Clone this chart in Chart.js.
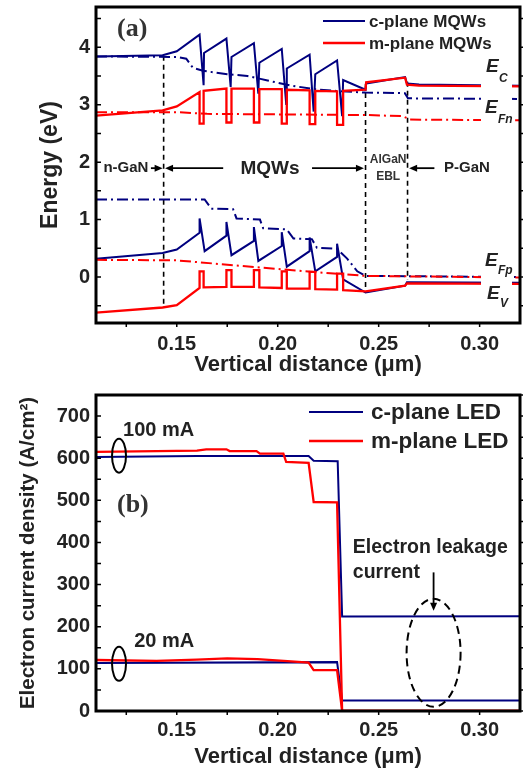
<!DOCTYPE html>
<html>
<head>
<meta charset="utf-8">
<script src="https://cdn.jsdelivr.net/npm/chart.js@4.4.0/dist/chart.umd.min.js"></script>
<style>
  html, body { margin: 0; padding: 0; background: #fff; }
  #wrap-a { position: absolute; left: 0; top: 0; width: 523px; height: 385px; }
  #wrap-b { position: absolute; left: 0; top: 385px; width: 523px; height: 386px; }
</style>
</head>
<body>
<div id="wrap-a"><canvas id="chart-a" width="523" height="385"></canvas></div>
<div id="wrap-b"><canvas id="chart-b" width="523" height="386"></canvas></div>
<script>
// ---- data: panel (a), band diagram, [distance um, energy eV] ----
const cPlaneEc = [[0.11,3.84],[0.143,3.86],[0.15,3.93],[0.1613,4.22],[0.1633,3.34],[0.1635,3.90],[0.1746,4.15],[0.1767,3.31],[0.1771,3.83],[0.1882,4.07],[0.1904,3.19],[0.1909,3.73],[0.2020,3.97],[0.2042,3.01],[0.2045,3.63],[0.2158,3.87],[0.2178,2.88],[0.2186,3.53],[0.2294,3.77],[0.2319,2.80],[0.2324,3.43],[0.2435,3.26],[0.2438,3.37],[0.2631,3.48],[0.2640,3.37],[0.270,3.35],[0.32,3.33]];
const mPlaneEc = [[0.11,2.81],[0.143,2.90],[0.15,2.97],[0.1613,3.22],[0.1613,2.67],[0.1633,2.67],[0.1633,3.24],[0.1746,3.28],[0.1746,2.69],[0.1771,2.69],[0.1771,3.28],[0.1882,3.28],[0.1882,2.69],[0.1909,2.69],[0.1909,3.27],[0.2020,3.27],[0.2020,2.67],[0.2045,2.67],[0.2045,3.26],[0.2158,3.25],[0.2158,2.66],[0.2186,2.66],[0.2186,3.24],[0.2294,3.23],[0.2294,2.65],[0.2324,2.65],[0.2324,3.24],[0.2435,3.26],[0.2438,3.39],[0.2631,3.47],[0.2640,3.35],[0.270,3.33],[0.32,3.32]];
const cPlaneEv = [[0.11,0.32],[0.143,0.42],[0.15,0.48],[0.1613,0.77],[0.1613,1.02],[0.1638,0.45],[0.1746,0.72],[0.1746,0.96],[0.1771,0.38],[0.1882,0.63],[0.1882,0.87],[0.1904,0.28],[0.2020,0.54],[0.2020,0.78],[0.2045,0.18],[0.2158,0.45],[0.2158,0.69],[0.2186,0.10],[0.2294,0.35],[0.2294,0.58],[0.2324,-0.04],[0.2435,-0.27],[0.2631,-0.15],[0.2640,-0.09],[0.32,-0.10]];
const mPlaneEv = [[0.11,-0.62],[0.143,-0.53],[0.15,-0.49],[0.1613,-0.19],[0.1613,0.10],[0.1633,0.10],[0.1633,-0.18],[0.1746,-0.17],[0.1746,0.12],[0.1771,0.12],[0.1771,-0.17],[0.1882,-0.17],[0.1882,0.12],[0.1909,0.12],[0.1909,-0.18],[0.2020,-0.19],[0.2020,0.10],[0.2045,0.10],[0.2045,-0.20],[0.2158,-0.20],[0.2158,0.09],[0.2186,0.09],[0.2186,-0.21],[0.2294,-0.22],[0.2294,0.06],[0.2324,0.06],[0.2324,-0.23],[0.2435,-0.25],[0.2631,-0.15],[0.2640,-0.11],[0.32,-0.12]];
const cPlaneEfn = [[0.11,3.84],[0.15,3.83],[0.1547,3.80],[0.158,3.64],[0.163,3.59],[0.175,3.53],[0.185,3.50],[0.195,3.42],[0.207,3.33],[0.218,3.27],[0.229,3.24],[0.2435,3.21],[0.263,3.20],[0.2645,3.11],[0.32,3.10]];
const mPlaneEfn = [[0.11,2.87],[0.15,2.87],[0.165,2.84],[0.2435,2.82],[0.262,2.80],[0.2655,2.74],[0.32,2.73]];
const cPlaneEfp = [[0.11,1.35],[0.1638,1.35],[0.1671,1.19],[0.1779,1.18],[0.1796,1.02],[0.1912,1.00],[0.1928,0.85],[0.2045,0.83],[0.2078,0.67],[0.2169,0.66],[0.2194,0.51],[0.2294,0.49],[0.2344,0.32],[0.2394,0.10],[0.2435,0.02],[0.32,0.00]];
const mPlaneEfp = [[0.11,0.30],[0.15,0.29],[0.19,0.17],[0.22,0.08],[0.2435,0.02],[0.32,-0.01]];
// layer boundaries (dashed)
const boundaryX = [0.1435, 0.2435, 0.2643];
const boundaryTop = [3.85, 3.36, 3.40];
const boundaryBottom = [-0.53, -0.27, -0.05];

// ---- data: panel (b), electron current density, [distance um, A/cm2] ----
const cPlane100 = [[0.11,603],[0.16,605],[0.2153,605],[0.2178,594],[0.2297,593],[0.2319,224],[0.32,225]];
const mPlane100 = [[0.11,615],[0.16,618],[0.1646,621],[0.1746,621],[0.1762,617],[0.1895,617],[0.1912,611],[0.2028,611],[0.2042,591],[0.2153,589],[0.2178,496],[0.2294,495],[0.2319,0],[0.32,0]];
const cPlane20 = [[0.11,114],[0.2294,116],[0.2319,25],[0.32,25]];
const mPlane20 = [[0.11,121],[0.14,119],[0.16,122],[0.175,125],[0.19,123],[0.203,119],[0.2153,115],[0.2178,97],[0.2294,97],[0.2319,0],[0.32,0]];

// ---- ticks ----
const xTicks = [0.15, 0.20, 0.25, 0.30];
const xMinor = [0.125, 0.175, 0.225, 0.275];
const energyTicks = [0, 1, 2, 3, 4];
const energyMinor = [-0.5, 0.5, 1.5, 2.5, 3.5, 4.5];
const currentTicks = [0, 100, 200, 300, 400, 500, 600, 700];
const currentMinor = [50, 150, 250, 350, 450, 550, 650, 750];

const BLUE = '#00007f';
const RED = '#ff0000';
const INK = '#222';
const FONT = "'Liberation Sans', Arial, Helvetica, sans-serif";
const DASHDOT = [11, 4, 2, 4];

const pts = arr => arr.map(p => ({ x: p[0], y: p[1] }));
function series(arr, color, width, dash) {
    return {
        data: pts(arr), showLine: true, pointRadius: 0, borderColor: color,
        borderWidth: width, borderDash: dash || [], fill: false
    };
}

function text(ctx, s, x, y, font, align, base, color) {
    ctx.font = font;
    ctx.textAlign = align || 'left';
    ctx.textBaseline = base || 'alphabetic';
    ctx.fillStyle = color || INK;
    ctx.fillText(s, x, y);
}
function arrow(ctx, x1, y1, x2, y2) {
    const ang = Math.atan2(y2 - y1, x2 - x1), L = 8, W = 3.5;
    ctx.beginPath(); ctx.moveTo(x1, y1); ctx.lineTo(x2 - L * Math.cos(ang) * 0.6, y2 - L * Math.sin(ang) * 0.6); ctx.stroke();
    ctx.beginPath();
    ctx.moveTo(x2, y2);
    ctx.lineTo(x2 - L * Math.cos(ang) + W * Math.sin(ang), y2 - L * Math.sin(ang) - W * Math.cos(ang));
    ctx.lineTo(x2 - L * Math.cos(ang) - W * Math.sin(ang), y2 - L * Math.sin(ang) + W * Math.cos(ang));
    ctx.closePath(); ctx.fill();
}

// frame + tick marks
const framePlugin = {
    id: 'frame',
    afterDraw(chart, args, opts) {
        const { ctx, chartArea: a, scales: { x, y } } = chart;
        ctx.save();
        ctx.strokeStyle = '#000';
        ctx.lineWidth = 1.5;
        opts.yTicks.concat(opts.yMinor).forEach(v => {
            const p = y.getPixelForValue(v);
            ctx.beginPath();
            ctx.moveTo(a.left, p); ctx.lineTo(a.left + 5, p);
            ctx.moveTo(a.right, p); ctx.lineTo(a.right + 4, p);
            ctx.stroke();
        });
        xTicks.concat(xMinor).forEach(v => {
            const p = x.getPixelForValue(v);
            ctx.beginPath(); ctx.moveTo(p, a.bottom); ctx.lineTo(p, a.bottom + 4); ctx.stroke();
        });
        ctx.lineWidth = 3;
        ctx.strokeRect(a.left, a.top, a.right - a.left, a.bottom - a.top);
        ctx.restore();
    }
};

function legend(ctx, items, x1, x2, tx, font) {
    items.forEach(it => {
        ctx.strokeStyle = it.color; ctx.lineWidth = it.width; ctx.setLineDash([]);
        ctx.beginPath(); ctx.moveTo(x1, it.y); ctx.lineTo(x2, it.y); ctx.stroke();
        text(ctx, it.label, tx, it.y + 1, font, 'left', 'middle');
    });
}

// annotations for panel (a)
const annotA = {
    id: 'annotA',
    afterDatasetsDraw(chart) {
        const { ctx, scales: { x, y } } = chart;
        const px = v => x.getPixelForValue(v), py = v => y.getPixelForValue(v);
        ctx.save();
        // white boxes behind the band labels
        ctx.fillStyle = '#fff';
        ctx.fillRect(481, 52, 31, 74);
        ctx.fillRect(481, 250, 31, 60);
        const eFont = 'italic bold 19px ' + FONT, sFont = 'italic bold 12px ' + FONT;
        text(ctx, 'E', 486, 72, eFont); text(ctx, 'C', 499, 82, sFont);
        text(ctx, 'E', 485, 113, eFont); text(ctx, 'Fn', 498, 123, sFont);
        text(ctx, 'E', 485, 266, eFont); text(ctx, 'Fp', 498, 274, sFont);
        text(ctx, 'E', 487, 299, eFont); text(ctx, 'V', 500, 307, sFont);

        text(ctx, '(a)', px(0.1204), py(4.20), 'bold 26px "Liberation Serif", "Times New Roman", serif', 'left', 'alphabetic', '#333');

        // region labels
        const yr = py(1.895);
        ctx.strokeStyle = '#000'; ctx.fillStyle = '#000'; ctx.lineWidth = 1.8;
        arrow(ctx, px(0.1372), yr, px(0.1430), yr);
        arrow(ctx, px(0.1730), yr, px(0.1442), yr);
        arrow(ctx, px(0.2170), yr, px(0.2427), yr);
        arrow(ctx, px(0.2776), yr, px(0.2651), yr);
        text(ctx, 'n-GaN', px(0.1248), yr, 'bold 15px ' + FONT, 'center', 'middle');
        text(ctx, 'MQWs', px(0.1962), yr + 1, 'bold 19px ' + FONT, 'center', 'middle');
        text(ctx, 'P-GaN', px(0.2937), yr, 'bold 15px ' + FONT, 'center', 'middle');
        text(ctx, 'AlGaN', px(0.2547), py(2.05), 'bold 12px ' + FONT, 'center', 'middle', '#333');
        text(ctx, 'EBL', px(0.2547), py(1.74), 'bold 12px ' + FONT, 'center', 'middle', '#333');

        legend(ctx, [
            { label: 'c-plane MQWs', color: BLUE, width: 2, y: 21 },
            { label: 'm-plane MQWs', color: RED, width: 2.5, y: 43 }
        ], 323, 365, 369, 'bold 17px ' + FONT);
        ctx.restore();
    }
};

// annotations for panel (b)
const annotB = {
    id: 'annotB',
    afterDatasetsDraw(chart) {
        const { ctx, scales: { x, y } } = chart;
        const px = v => x.getPixelForValue(v), py = v => y.getPixelForValue(v);
        ctx.save();
        text(ctx, '(b)', px(0.1204), py(472), 'bold 26px "Liberation Serif", "Times New Roman", serif', 'left', 'alphabetic', '#333');
        text(ctx, '100 mA', px(0.1234), py(653), 'bold 20px ' + FONT);
        text(ctx, '20 mA', px(0.1289), py(152), 'bold 20px ' + FONT);
        text(ctx, 'Electron leakage', px(0.2372), py(374), 'bold 19.5px ' + FONT);
        text(ctx, 'current', px(0.2372), py(316), 'bold 19.5px ' + FONT);

        ctx.strokeStyle = '#000'; ctx.lineWidth = 2;
        [[0.1214, 606], [0.1214, 112]].forEach(c => {
            ctx.beginPath(); ctx.ellipse(px(c[0]), py(c[1]), 7, 17, 0, 0, Math.PI * 2); ctx.stroke();
        });
        ctx.setLineDash([8, 5]);
        ctx.beginPath(); ctx.ellipse(px(0.2772), py(138), 27, 54, 0, 0, Math.PI * 2); ctx.stroke();
        ctx.setLineDash([]);
        ctx.fillStyle = '#000'; ctx.lineWidth = 1.8;
        arrow(ctx, px(0.2772), py(329), px(0.2772), py(238));

        legend(ctx, [
            { label: 'c-plane LED', color: BLUE, width: 2, y: 27 },
            { label: 'm-plane LED', color: RED, width: 2.5, y: 56 }
        ], 309, 363, 371, 'bold 22.5px ' + FONT);
        ctx.restore();
    }
};

function xScale(titlePad, tickPad, height) {
    return {
        type: 'linear', min: 0.11, max: 0.32,
        afterBuildTicks: s => { s.ticks = xTicks.map(v => ({ value: v })); },
        afterFit: s => { s.height = height; s.paddingLeft = 0; s.paddingRight = 0; },
        grid: { display: false, drawTicks: false },
        border: { display: false },
        ticks: {
            callback: v => v.toFixed(2), autoSkip: false, maxRotation: 0,
            padding: tickPad, color: INK, font: { family: FONT, size: 20, weight: 'bold' }
        },
        title: {
            display: true, text: 'Vertical distance (\u03bcm)', color: INK,
            font: { family: FONT, size: 22, weight: 'bold' }, padding: { top: 0, bottom: titlePad }
        }
    };
}
function yScale(min, max, tickList, title, titleSize, titlePad) {
    return {
        min: min, max: max,
        afterBuildTicks: s => { s.ticks = tickList.map(v => ({ value: v })); },
        afterFit: s => { s.width = 96; s.paddingTop = 0; s.paddingBottom = 0; },
        grid: { display: false, drawTicks: false },
        border: { display: false },
        ticks: { callback: v => String(v), padding: 6, color: INK, font: { family: FONT, size: 20, weight: 'bold' } },
        title: {
            display: true, text: title, color: INK,
            font: { family: FONT, size: titleSize, weight: 'bold' }, padding: { top: titlePad, bottom: 0 }
        }
    };
}

new Chart(document.getElementById('chart-a'), {
    type: 'scatter',
    data: {
        datasets: [
            series(mPlaneEc, RED, 2.3),
            series(mPlaneEv, RED, 2.3),
            series(mPlaneEfn, RED, 2, DASHDOT),
            series(mPlaneEfp, RED, 2, DASHDOT),
            series(cPlaneEc, BLUE, 2),
            series(cPlaneEv, BLUE, 2),
            series(cPlaneEfn, BLUE, 2, DASHDOT),
            series(cPlaneEfp, BLUE, 2, DASHDOT),
            ...boundaryX.map((bx, i) => series([[bx, boundaryTop[i]], [bx, boundaryBottom[i]]], '#000', 1.6, [5, 4]))
        ]
    },
    options: {
        responsive: false,
        animation: false,
        layout: { padding: { left: 0, right: 3, top: 7, bottom: 0 } },
        plugins: {
            legend: { display: false },
            tooltip: { enabled: false },
            frame: { yTicks: energyTicks, yMinor: energyMinor }
        },
        scales: {
            x: xScale(7, 9, 62),
            y: yScale(-0.8, 4.7, energyTicks, 'Energy (eV)', 23, 37)
        }
    },
    plugins: [annotA, framePlugin]
});

new Chart(document.getElementById('chart-b'), {
    type: 'scatter',
    data: {
        datasets: [
            series(mPlane100, RED, 2.3),
            series(mPlane20, RED, 2.3),
            series(cPlane100, BLUE, 2),
            series(cPlane20, BLUE, 2)
        ]
    },
    options: {
        responsive: false,
        animation: false,
        layout: { padding: { left: 0, right: 3, top: 10, bottom: 0 } },
        plugins: {
            legend: { display: false },
            tooltip: { enabled: false },
            frame: { yTicks: currentTicks, yMinor: currentMinor }
        },
        scales: {
            x: xScale(1, 7, 60),
            y: yScale(0, 750, currentTicks, 'Electron current density (A/cm\u00b2)', 20.5, 16)
        }
    },
    plugins: [annotB, framePlugin]
});
</script>
</body>
</html>
